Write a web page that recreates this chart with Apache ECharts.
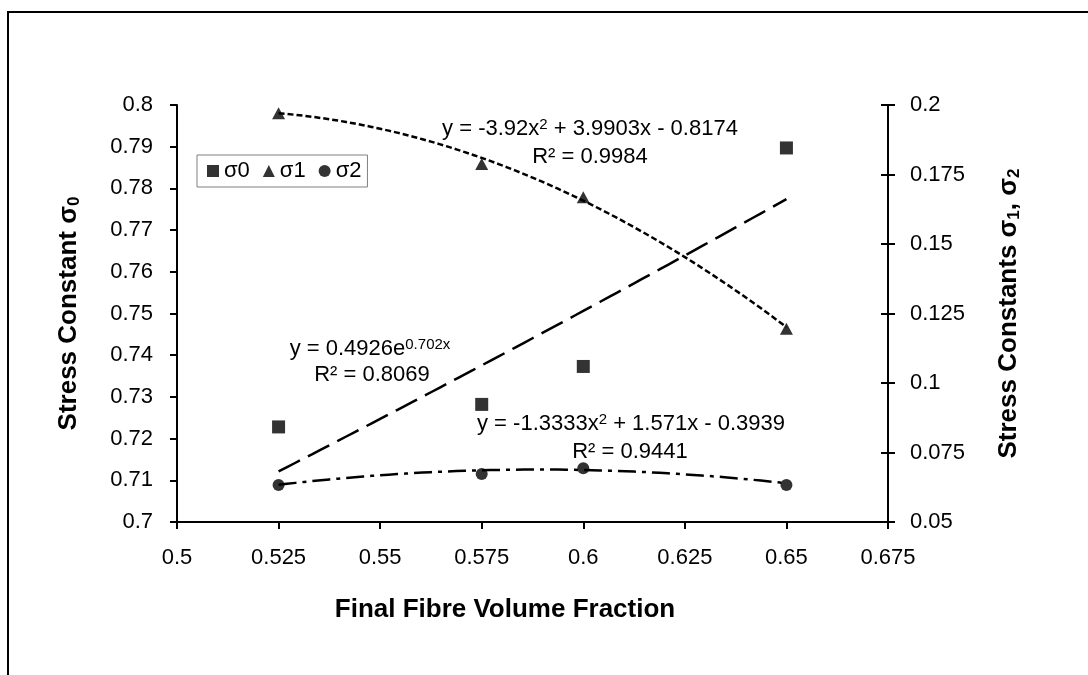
<!DOCTYPE html>
<html>
<head>
<meta charset="utf-8">
<script src="https://cdn.jsdelivr.net/npm/echarts@6/dist/echarts.min.js"></script>
<style>
  html, body { margin: 0; padding: 0; background: #fff; }
  #chart { width: 1088px; height: 675px; }
</style>
</head>
<body>
<div id="chart"></div>
<script>
// Final fibre volume fraction of each specimen group
const fibreFraction = [0.525, 0.575, 0.6, 0.65];
// Stress constants
const sigma0 = [0.7228, 0.7282, 0.7373, 0.7897];
const sigma1 = [0.1970, 0.1788, 0.1668, 0.1195];
const sigma2 = [0.0633, 0.0673, 0.0693, 0.0633];

// Fitted trendline coefficients (as printed on the chart)
const fit0Exp = [0.4926, 0.702];               // y = a * e^(b x)
const fit1Poly = [-3.92, 3.9903, -0.8174];      // y = a x^2 + b x + c
const fit2Poly = [-1.3333, 1.571, -0.3939];

const xTicks = { min: 0.5, max: 0.675, interval: 0.025 };
const y0Ticks = { min: 0.7, max: 0.8, interval: 0.01 };
const y1Ticks = { min: 0.05, max: 0.2, interval: 0.025 };

const FONT = '"Liberation Sans", Arial, sans-serif';

function curve(fn) {
  const pts = [];
  const x0 = fibreFraction[0], x1 = fibreFraction[fibreFraction.length - 1];
  const n = 60;
  for (let i = 0; i <= n; i++) {
    const x = x0 + (x1 - x0) * i / n;
    pts.push([x, fn(x)]);
  }
  return pts;
}
const poly = c => x => c[0] * x * x + c[1] * x + c[2];
const expo = c => x => c[0] * Math.exp(c[1] * x);

const pairs = ys => fibreFraction.map((x, i) => [x, ys[i]]);
const fmt = v => String(+v.toFixed(4));

const chart = echarts.init(document.getElementById('chart'), null, { renderer: 'canvas' });

const axisLine = { show: true, lineStyle: { color: '#000', width: 2 } };
const tickStyle = { color: '#000', width: 2 };
const axisLabel = { color: '#000', fontSize: 22, fontFamily: FONT, formatter: fmt };
const subRich = { sub: { fontSize: 17, fontWeight: 'bold', fontFamily: FONT, color: '#000', verticalAlign: 'bottom', padding: [12, 0, 0, 0] } };
const supRich = { sup: { fontSize: 15, fontFamily: FONT, fill: '#000', verticalAlign: 'top', padding: [0, 0, 9, 0] } };

function note(text, cx, cy) {
  return {
    type: 'text', x: cx, y: cy, silent: true,
    style: { text: text, fill: '#000', font: '22px ' + FONT, align: 'center', verticalAlign: 'middle', rich: supRich }
  };
}

const option = {
  backgroundColor: '#fff',
  animation: false,
  grid: { left: 177, right: 200, top: 105, bottom: 153, containLabel: false },
  legend: {
    data: ['σ0', 'σ1', 'σ2'],
    left: 197, top: 155,
    orient: 'horizontal',
    borderColor: '#808080', borderWidth: 1,
    padding: [5, 6, 5, 10],
    itemWidth: 12, itemHeight: 12, itemGap: 13,
    textStyle: { color: '#000', fontSize: 22, fontFamily: FONT, padding: [0, 0, 0, 0] }
  },
  xAxis: {
    type: 'value',
    min: xTicks.min, max: xTicks.max, interval: xTicks.interval,
    axisLine: axisLine,
    axisTick: { show: true, inside: false, length: 7, lineStyle: tickStyle },
    axisLabel: Object.assign({ margin: 25 }, axisLabel),
    splitLine: { show: false }
  },
  yAxis: [
    {
      type: 'value', position: 'left',
      min: y0Ticks.min, max: y0Ticks.max, interval: y0Ticks.interval,
      axisLine: axisLine,
      axisTick: { show: true, inside: false, length: 7, lineStyle: tickStyle },
      axisLabel: Object.assign({ margin: 24 }, axisLabel),
      splitLine: { show: false },
      name: 'Stress Constant σ{sub|0}',
      nameLocation: 'middle', nameGap: 94, nameRotate: 90,
      nameTextStyle: { color: '#000', fontSize: 26, fontWeight: 'bold', fontFamily: FONT, rich: subRich }
    },
    {
      type: 'value', position: 'right',
      min: y1Ticks.min, max: y1Ticks.max, interval: y1Ticks.interval,
      axisLine: axisLine,
      axisTick: { show: true, inside: false, length: 7, lineStyle: tickStyle },
      axisLabel: Object.assign({ margin: 22 }, axisLabel),
      splitLine: { show: false },
      name: 'Stress Constants σ{sub|1}, σ{sub|2}',
      nameLocation: 'middle', nameGap: 106, nameRotate: 90,
      nameTextStyle: { color: '#000', fontSize: 26, fontWeight: 'bold', fontFamily: FONT, rich: subRich }
    },
    {
      // inner half of the crossing ticks on the right axis
      type: 'value', position: 'right',
      min: y1Ticks.min, max: y1Ticks.max, interval: y1Ticks.interval,
      axisLine: { show: false },
      axisTick: { show: true, inside: true, length: 7, lineStyle: tickStyle },
      axisLabel: { show: false },
      splitLine: { show: false }
    }
  ],
  series: [
    {
      name: 'σ0', type: 'scatter', yAxisIndex: 0,
      symbol: 'rect', symbolSize: 13,
      itemStyle: { color: '#000' },
      data: pairs(sigma0), z: 5
    },
    {
      name: 'σ1', type: 'scatter', yAxisIndex: 1,
      symbol: 'triangle', symbolSize: [13, 12],
      itemStyle: { color: '#000' },
      data: pairs(sigma1), z: 5
    },
    {
      name: 'σ2', type: 'scatter', yAxisIndex: 1,
      symbol: 'circle', symbolSize: 12,
      itemStyle: { color: '#000' },
      data: pairs(sigma2), z: 5
    },
    {
      name: 'σ0 fit', type: 'line', yAxisIndex: 0, showSymbol: false,
      lineStyle: { color: '#000', width: 2.5, type: [24, 9] },
      data: curve(expo(fit0Exp)), silent: true
    },
    {
      name: 'σ1 fit', type: 'line', yAxisIndex: 1, showSymbol: false,
      lineStyle: { color: '#000', width: 2.5, type: [6, 3] },
      data: curve(poly(fit1Poly)), silent: true
    },
    {
      name: 'σ2 fit', type: 'line', yAxisIndex: 1, showSymbol: false,
      lineStyle: { color: '#000', width: 2.5, type: [18, 6, 4, 6] },
      data: curve(poly(fit2Poly)), silent: true
    }
  ],
  graphic: [
    {
      type: 'rect', silent: true, z: -1,
      shape: { x: 8, y: 12, width: 1200, height: 800 },
      style: { fill: 'none', stroke: '#000', lineWidth: 2 }
    },
    {
      type: 'text', x: 505, y: 610, silent: true,
      style: { text: 'Final Fibre Volume Fraction', fill: '#000', font: 'bold 26px ' + FONT, align: 'center', verticalAlign: 'middle' }
    },
    note('y = -3.92x{sup|2} + 3.9903x - 0.8174', 590, 129),
    note('R² = 0.9984', 590, 157),
    note('y = 0.4926e{sup|0.702x}', 370, 349),
    note('R² = 0.8069', 372, 375),
    note('y = -1.3333x{sup|2} + 1.571x - 0.3939', 631, 424),
    note('R² = 0.9441', 630, 452)
  ]
};

chart.setOption(option);
</script>
</body>
</html>
